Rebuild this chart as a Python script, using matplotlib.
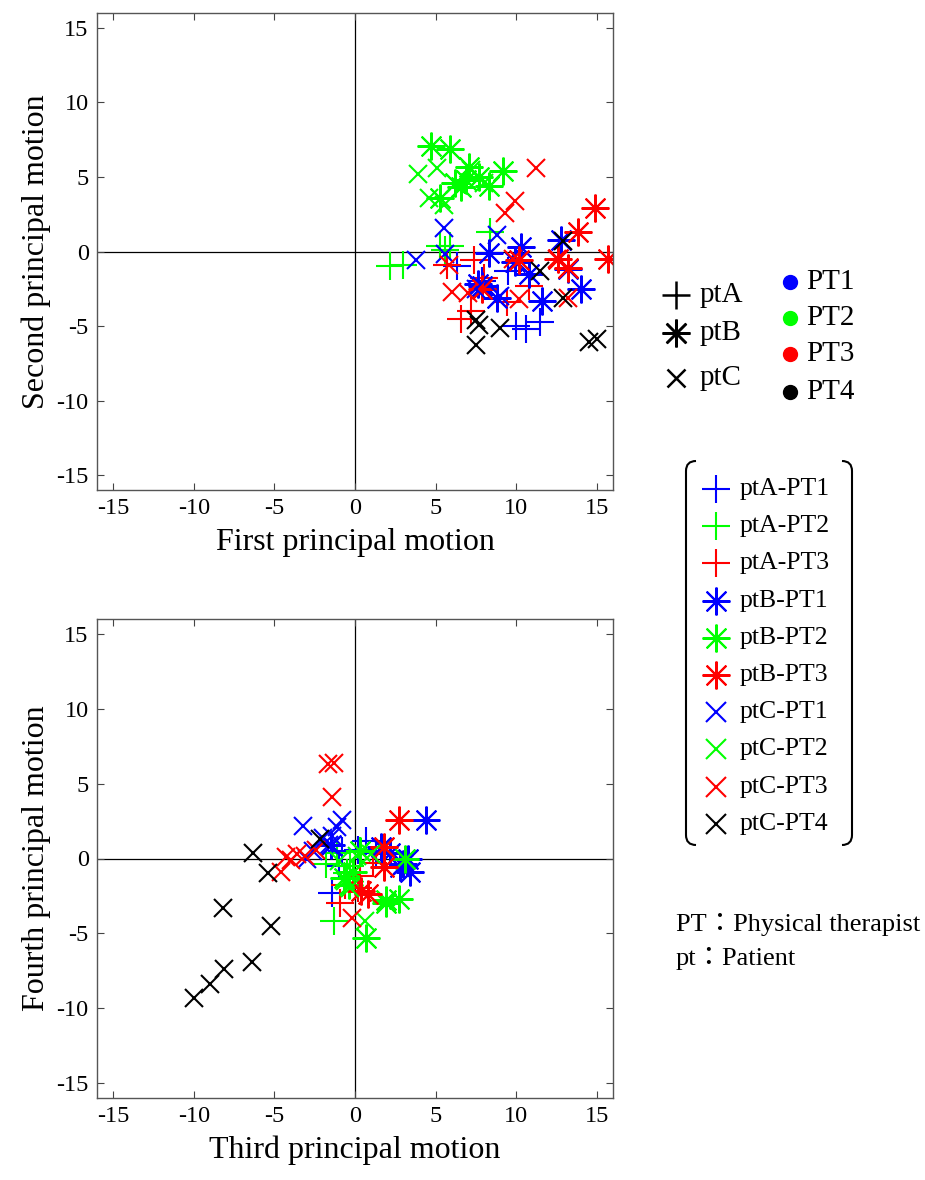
import numpy as np
import matplotlib.pyplot as plt
from matplotlib.path import Path
from matplotlib.patches import PathPatch

plt.rcParams['font.family'] = ['Liberation Serif', 'Noto Sans CJK JP']
plt.rcParams['axes.unicode_minus'] = False

# marker / colour per series
series = ['ptA-PT1', 'ptA-PT2', 'ptA-PT3', 'ptB-PT1', 'ptB-PT2', 'ptB-PT3',
          'ptC-PT1', 'ptC-PT2', 'ptC-PT3', 'ptC-PT4']
pt_colors = {'PT1': '#0000ff', 'PT2': '#00ff00', 'PT3': '#ff0000', 'PT4': '#000000'}

# ---- top panel: first (x) vs second (y) principal motion ----
top_ptA_PT1_x = [10.0, 10.6, 11.5, 6.3, 7.9, 9.5]
top_ptA_PT1_y = [-5.0, -5.2, -4.7, -1.0, -2.0, -1.3]
top_ptA_PT2_x = [2.2, 3.0, 5.3, 5.9, 8.4, 5.6]
top_ptA_PT2_y = [-1.0, -0.9, 0.4, 0.4, 1.3, 0.1]
top_ptA_PT3_x = [7.4, 5.7, 7.2, 6.6, 9.4, 10.8, 8.0]
top_ptA_PT3_y = [-0.6, -0.9, -4.0, -4.5, -3.4, -2.3, -1.8]
top_ptB_PT1_x = [8.3, 10.3, 12.8, 14.0, 11.6, 8.8, 7.6, 13.2, 10.8, 9.9, 7.9]
top_ptB_PT1_y = [-0.1, 0.3, 0.8, -2.5, -3.3, -3.1, -2.2, -1.2, -1.5, -0.7, -2.3]
top_ptB_PT2_x = [4.7, 5.9, 7.1, 9.2, 6.2, 6.6, 8.3, 7.7, 5.3, 6.9]
top_ptB_PT2_y = [7.1, 6.9, 5.7, 5.4, 4.6, 4.3, 4.4, 5.0, 3.6, 4.8]
top_ptB_PT3_x = [14.9, 13.8, 15.7, 13.2, 12.6, 10.2, 7.9]
top_ptB_PT3_y = [2.9, 1.3, -0.5, -1.1, -0.5, -0.6, -2.5]
top_ptC_PT1_x = [5.5, 3.8, 5.6, 8.8, 7.5, 9.0]
top_ptC_PT1_y = [1.6, -0.6, -0.2, 1.1, -2.5, -3.0]
top_ptC_PT2_x = [3.9, 5.1, 4.6, 5.5, 7.2, 8.0]
top_ptC_PT2_y = [5.2, 5.6, 3.6, 3.1, 5.5, 4.6]
top_ptC_PT3_x = [11.2, 9.9, 9.3, 5.8, 6.0, 7.0, 10.2, 13.2, 12.5, 9.8]
top_ptC_PT3_y = [5.6, 3.4, 2.6, -0.9, -2.7, -2.8, -3.2, -3.1, -0.5, -0.5]
top_ptC_PT4_x = [12.9, 11.5, 12.9, 7.5, 7.7, 9.0, 7.5, 14.5, 15.0]
top_ptC_PT4_y = [0.7, -1.3, -3.1, -4.6, -4.9, -5.1, -6.3, -6.1, -5.9]

# ---- bottom panel: third (x) vs fourth (y) principal motion ----
bot_ptA_PT1_x = [0.7, -0.8, -1.4, 0.2, -1.0, 1.3]
bot_ptA_PT1_y = [1.2, 0.5, -2.3, 0.6, -0.5, 0.4]
bot_ptA_PT2_x = [-1.3, -1.1, -1.8, -0.5, 0.3, -0.3]
bot_ptA_PT2_y = [-4.2, 0.4, -0.4, -1.0, 0.5, -0.5]
bot_ptA_PT3_x = [0.3, -0.9, 0.2, -0.6, 1.1]
bot_ptA_PT3_y = [-1.2, -3.0, -2.0, -1.8, -0.3]
bot_ptB_PT1_x = [4.4, 3.0, 3.4, 3.3, 1.6, 2.8, 2.2, -1.5]
bot_ptB_PT1_y = [2.6, -0.4, -0.9, 0.0, 0.8, -0.6, 0.4, 0.9]
bot_ptB_PT2_x = [0.7, 1.9, 2.7, 3.1, -0.7, -0.4, 0.3, 1.9, -0.1]
bot_ptB_PT2_y = [-5.3, -2.8, -2.7, 0.0, -1.3, -1.8, 0.5, -3.0, -0.9]
bot_ptB_PT3_x = [2.7, 1.8, 1.8, 0.8, 0.4]
bot_ptB_PT3_y = [2.6, 0.8, -0.6, -2.4, -2.2]
bot_ptC_PT1_x = [-3.2, -0.8, -1.1, -1.4, -2.0, -2.6, -1.6, -3.0]
bot_ptC_PT1_y = [2.2, 2.6, 2.1, 1.5, 1.4, 0.5, 0.9, 0.0]
bot_ptC_PT2_x = [0.6, -0.6, 0.1, -1.0, 1.0, -0.3]
bot_ptC_PT2_y = [-4.2, -1.5, 0.2, -0.2, 0.3, -2.0]
bot_ptC_PT3_x = [-1.7, -1.3, -1.4, -4.3, -4.0, -4.6, -3.1, -2.4, -0.2, -3.6]
bot_ptC_PT3_y = [6.3, 6.4, 4.1, 0.1, -0.1, -0.9, 0.2, 0.6, -4.0, 0.3]
bot_ptC_PT4_x = [-10.0, -9.0, -8.1, -6.4, -8.2, -5.2, -6.3, -5.4, -2.2]
bot_ptC_PT4_y = [-9.3, -8.4, -7.4, -6.9, -3.3, -4.5, 0.4, -1.0, 1.3]

top_data = [(top_ptA_PT1_x, top_ptA_PT1_y), (top_ptA_PT2_x, top_ptA_PT2_y),
            (top_ptA_PT3_x, top_ptA_PT3_y), (top_ptB_PT1_x, top_ptB_PT1_y),
            (top_ptB_PT2_x, top_ptB_PT2_y), (top_ptB_PT3_x, top_ptB_PT3_y),
            (top_ptC_PT1_x, top_ptC_PT1_y), (top_ptC_PT2_x, top_ptC_PT2_y),
            (top_ptC_PT3_x, top_ptC_PT3_y), (top_ptC_PT4_x, top_ptC_PT4_y)]
bot_data = [(bot_ptA_PT1_x, bot_ptA_PT1_y), (bot_ptA_PT2_x, bot_ptA_PT2_y),
            (bot_ptA_PT3_x, bot_ptA_PT3_y), (bot_ptB_PT1_x, bot_ptB_PT1_y),
            (bot_ptB_PT2_x, bot_ptB_PT2_y), (bot_ptB_PT3_x, bot_ptB_PT3_y),
            (bot_ptC_PT1_x, bot_ptC_PT1_y), (bot_ptC_PT2_x, bot_ptC_PT2_y),
            (bot_ptC_PT3_x, bot_ptC_PT3_y), (bot_ptC_PT4_x, bot_ptC_PT4_y)]

ticks = [-15, -10, -5, 0, 5, 10, 15]


def marker_style(name):
    pt, therapist = name.split('-')
    c = pt_colors[therapist]
    if pt == 'ptA':
        return dict(marker='+', ms=20, mew=1.5, color=c)
    if pt == 'ptB':
        return dict(marker=(8, 2, 0), ms=20, mew=1.5, color=c)
    return dict(marker='x', ms=13, mew=1.5, color=c)


def draw_panel(ax, data, xlabel, ylabel):
    ax.axhline(0, color='black', lw=0.9, zorder=1)
    ax.axvline(0, color='black', lw=0.9, zorder=1)
    for name, (xs, ys) in zip(series, data):
        ax.plot(xs, ys, ls='none', zorder=2, **marker_style(name))
    ax.set_xlim(-16, 16)
    ax.set_ylim(-16, 16)
    ax.set_xticks(ticks)
    ax.set_yticks(ticks)
    ax.tick_params(direction='in', length=5, width=0.8, top=True, right=True,
                   labelsize=17.5, pad=6, color='#444444')
    for s in ax.spines.values():
        s.set_color('#555555')
        s.set_linewidth(1.0)
    ax.set_xlabel(xlabel, fontsize=23, labelpad=6)
    ax.set_ylabel(ylabel, fontsize=23, labelpad=4)


fig = plt.figure(figsize=(9.25, 11.8), dpi=100)
ax1 = fig.add_axes([97 / 925, (1180 - 490) / 1180, 516 / 925, 477 / 1180])
ax2 = fig.add_axes([97 / 925, (1180 - 1098) / 1180, 516 / 925, 479 / 1180])
draw_panel(ax1, top_data, 'First principal motion', 'Second principal motion')
draw_panel(ax2, bot_data, 'Third principal motion', 'Fourth principal motion')

# overlay in pixel coordinates for the hand-made legends
lg = fig.add_axes([0, 0, 1, 1])
lg.set_xlim(0, 925)
lg.set_ylim(1180, 0)
lg.axis('off')

# shape legend
shape_names = ['ptA', 'ptB', 'ptC']
shape_y = [295, 333, 378]
for name, y in zip(shape_names, shape_y):
    st = marker_style(name + '-PT4')
    st['mew'] = 1.8
    lg.plot([676], [y], ls='none', **st)
    lg.text(700, y, name, fontsize=21, va='center', ha='left')

# colour legend
pt_names = ['PT1', 'PT2', 'PT3', 'PT4']
pt_y = [282, 318, 354, 392]
for name, y in zip(pt_names, pt_y):
    lg.plot([790], [y], 'o', ms=10, color=pt_colors[name])
    lg.text(806, y, name, fontsize=21, va='center', ha='left')

# combined legend in brackets
leg_y0 = 489
leg_dy = 37.2
for i, name in enumerate(series):
    y = leg_y0 + i * leg_dy
    st = marker_style(name)
    if st['marker'] == 'x':
        st['ms'] = 15
    lg.plot([716], [y], ls='none', **st)
    lg.text(740, y, name, fontsize=18.5, va='center', ha='left')

# brackets
for xs, sgn in ((686, 1), (852, -1)):
    verts = [(xs + sgn * 10, 461), (xs, 461), (xs, 471), (xs, 835),
             (xs, 845), (xs + sgn * 10, 845)]
    codes = [Path.MOVETO, Path.CURVE3, Path.CURVE3, Path.LINETO,
             Path.CURVE3, Path.CURVE3]
    lg.add_patch(PathPatch(Path(verts, codes), fill=False, lw=1.5, color='black'))

# note
lg.text(676, 925, 'PT：Physical therapist', fontsize=19, va='center', ha='left')
lg.text(676, 958, 'pt：Patient', fontsize=19, va='center', ha='left')

fig.savefig('out.png', dpi=100)
